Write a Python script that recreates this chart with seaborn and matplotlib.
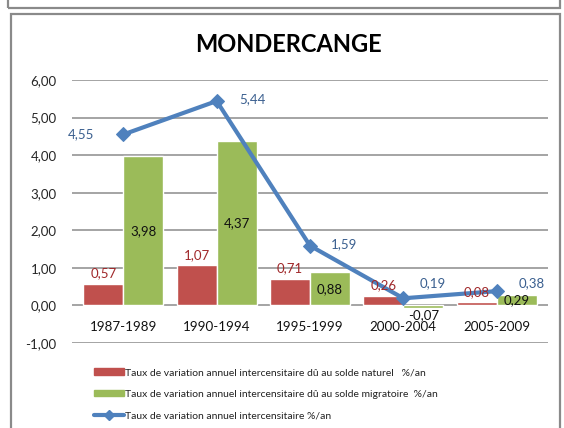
import numpy as np
import pandas as pd
import matplotlib
matplotlib.use("Agg")
import matplotlib.pyplot as plt
import seaborn as sns
from matplotlib.patches import Rectangle, Patch
from matplotlib.lines import Line2D

periods = ["1987-1989", "1990-1994", "1995-1999", "2000-2004", "2005-2009"]
naturel = [0.57, 1.07, 0.71, 0.26, 0.08]
migratoire = [3.98, 4.37, 0.88, -0.07, 0.29]
total = [4.55, 5.44, 1.59, 0.19, 0.38]
yticks = [-1, 0, 1, 2, 3, 4, 5, 6]
lab_nat = "Taux de variation annuel intercensitaire dû au solde naturel   %/an"
lab_mig = "Taux de variation annuel intercensitaire dû au solde migratoire  %/an"
lab_tot = "Taux de variation annuel intercensitaire %/an"

sns.set_theme(style="white")
plt.rcParams['font.family'] = ['Lato', 'DejaVu Sans']

RED = "#C0504D"
GREEN = "#9BBB59"
BLUE = "#4F81BD"

def fr(v):
    return f"{v:.2f}".replace(".", ",")

df = pd.DataFrame({
    "period": periods * 2,
    "value": naturel + migratoire,
    "serie": [lab_nat] * 5 + [lab_mig] * 5,
})

fig = plt.figure(figsize=(5.64, 4.28), dpi=100)
ax = fig.add_axes([72/564, 1-343/428, 476/564, 263/428])

sns.barplot(data=df, x="period", y="value", hue="serie", order=periods,
            hue_order=[lab_nat, lab_mig], palette=[RED, GREEN], width=0.86,
            ax=ax, legend=False, saturation=1, errorbar=None)
xs = np.arange(len(periods))
sns.lineplot(x=xs, y=total, ax=ax, color=BLUE, linewidth=3.0, marker="D",
             markersize=7, markeredgecolor=BLUE, legend=False)

ax.set_ylim(-1, 6)
ax.set_xlim(-0.55, 4.55)
ax.set_yticks(yticks)
ax.set_yticklabels([fr(v) for v in yticks], fontsize=9.5)
ax.set_xticks([])
ax.set_xlabel("")
ax.set_ylabel("")
for s in ax.spines.values():
    s.set_visible(False)
ax.yaxis.grid(True, color="#8c8c8c", linewidth=1.1)
ax.set_axisbelow(True)
ax.tick_params(axis="y", length=0, pad=11)

for i, p in enumerate(periods):
    ax.text(i, -0.58, p, ha="center", va="center", fontsize=9.6, color="#111111")

# labels
w = 0.43
for i, v in enumerate(naturel):
    ax.text(i - w/2, v + 0.12, fr(v), ha="center", va="bottom", fontsize=9.5, color="#A0282A")
for i, v in enumerate(migratoire):
    y = v / 2 if v > 0 else v - 0.2
    ax.text(i + w/2, y, fr(v), ha="center", va="center", fontsize=9.5, color="#111111")
offs = [(-0.45, 0.0), (0.38, 0.05), (0.36, 0.05), (0.32, 0.4), (0.38, 0.22)]
for i, v in enumerate(total):
    dx, dy = offs[i]
    ax.text(i + dx, v + dy, fr(v), ha="center", va="center", fontsize=9.5, color="#3A5F8F")

fig.text(288/564, 1-45/428, "MONDERCANGE", ha="center", va="center",
         fontsize=17, fontweight="bold", color="#000000")

handles = [Patch(facecolor=RED, edgecolor=RED),
           Patch(facecolor=GREEN, edgecolor=GREEN),
           Line2D([0], [0], color=BLUE, linewidth=3, marker="D", markersize=5)]
fig.legend(handles, [lab_nat, lab_mig, lab_tot], loc="upper left",
           bbox_to_anchor=(90/564, 1-364/428), frameon=False, fontsize=7.5,
           handlelength=2.9, handleheight=0.6, labelspacing=1.2, handletextpad=0.1,
           borderaxespad=0, labelcolor="#222222")

# frames
fig.patches.append(Rectangle((11/564, -0.05), 549/564, 1.05 - 14/428, transform=fig.transFigure,
                             fill=False, edgecolor="#8a8a8a", linewidth=1.6))
fig.patches.append(Rectangle((8/564, 1-8/428), 552/564, 0.1, transform=fig.transFigure,
                             fill=False, edgecolor="#8a8a8a", linewidth=1.6))

fig.savefig("out.png", dpi=100)
